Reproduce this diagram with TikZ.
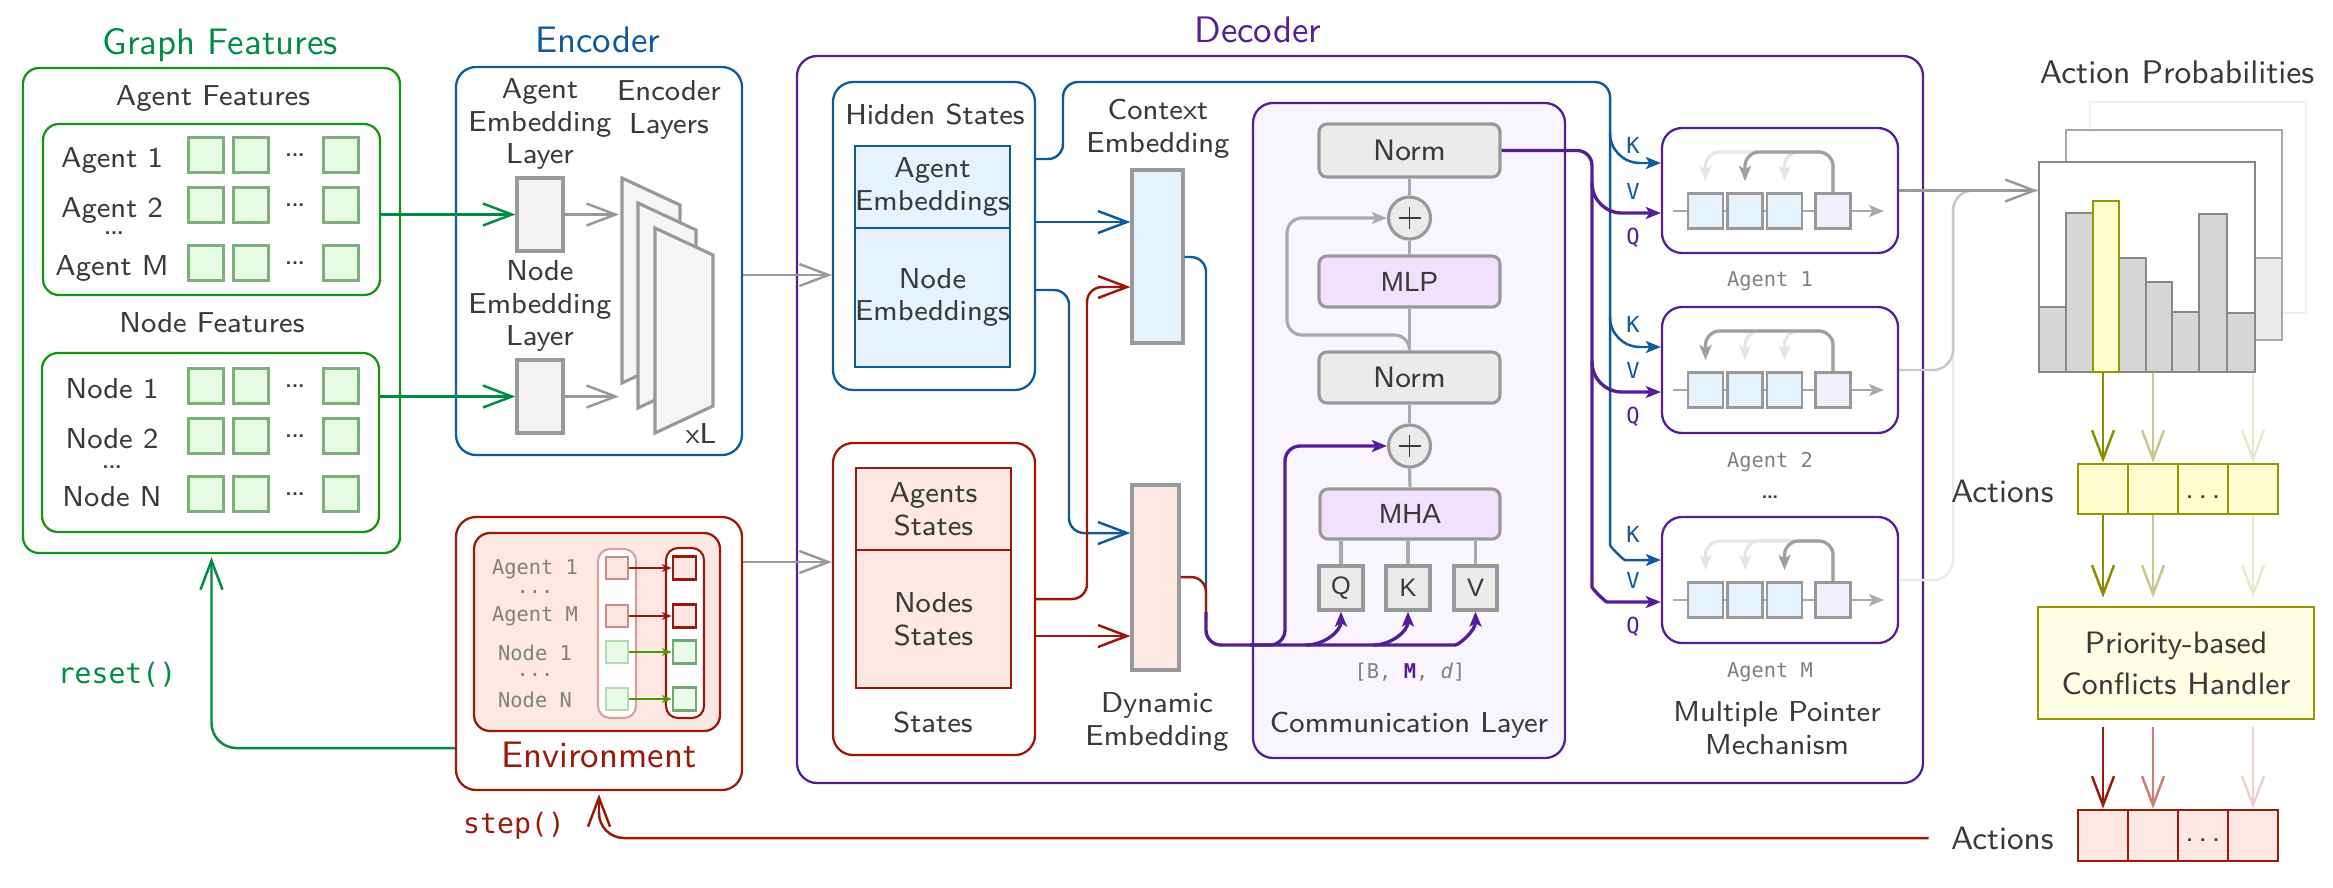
\documentclass[tikz,border=0pt]{standalone}
\usepackage{fontspec}
\setmonofont{DejaVu Sans Mono}
\newfontfamily\hvfont{Liberation Sans}
\usetikzlibrary{arrows.meta}
\definecolor{txt}{RGB}{58,58,58}
\definecolor{gfg}{RGB}{0,140,70}
\definecolor{gfb}{RGB}{20,150,20}
\definecolor{sqf}{RGB}{230,250,228}
\definecolor{sqd}{RGB}{125,175,125}
\definecolor{encb}{RGB}{15,90,155}
\definecolor{decp}{RGB}{85,30,150}
\definecolor{envr}{RGB}{155,25,10}
\definecolor{lred}{RGB}{253,232,228}
\definecolor{lblue}{RGB}{230,243,255}
\definecolor{lpur}{RGB}{240,226,253}
\definecolor{commf}{RGB}{248,245,254}
\definecolor{oliv}{RGB}{150,150,0}
\definecolor{olivA}{RGB}{140,140,0}
\definecolor{olivB}{RGB}{200,200,140}
\definecolor{olivC}{RGB}{232,232,205}
\definecolor{redB}{RGB}{205,125,118}
\definecolor{redC}{RGB}{238,208,204}
\definecolor{lyel}{RGB}{255,253,208}
\definecolor{hyel}{RGB}{254,254,226}
\definecolor{gline}{RGB}{153,153,153}
\definecolor{gcon}{RGB}{170,170,170}
\definecolor{panelf}{RGB}{244,245,245}
\definecolor{embf}{RGB}{242,242,242}
\definecolor{normf}{RGB}{235,235,235}
\definecolor{lightg}{RGB}{229,229,229}
\definecolor{darkg}{RGB}{160,160,160}
\definecolor{lpsq}{RGB}{243,238,252}
\definecolor{monog}{RGB}{128,128,128}
\definecolor{barf}{RGB}{214,214,214}
\definecolor{barB}{RGB}{136,136,136}
\definecolor{pbB}{RGB}{170,170,170}
\definecolor{pbC}{RGB}{238,238,238}
\definecolor{outB}{RGB}{200,200,200}
\definecolor{outC}{RGB}{235,235,235}
\definecolor{lgreen}{RGB}{234,251,234}
\definecolor{envlr}{RGB}{216,160,152}
\definecolor{envsqb}{RGB}{208,136,128}
\definecolor{envsqg}{RGB}{176,220,176}
\definecolor{envsqG}{RGB}{112,170,112}
\definecolor{envarg}{RGB}{76,154,0}

\newcommand{\myfbody}{\sffamily\fontsize{8.2}{9.3}\selectfont}
\newcommand{\myftitle}{\sffamily\fontsize{10.5}{12}\selectfont}
\newcommand{\myfmono}{\ttfamily\fontsize{5.8}{7}\selectfont}
\newcommand{\mkbox}[7]{\node[#1,minimum width={(#4-#2)*0.1mm},minimum height={(#5-#3)*0.1mm},inner sep=0pt] (#6) at ({(#2+#4)/2},{(#3+#5)/2}) {#7};}
\newcommand{\ptrrow}[3]{%
  \draw[gcon,line width=0.8pt,sstl] (1673,#1+83) -- (1884,#1+83);
  \foreach \tx in {1705.5,1745,1784.5}{\draw[lightg,line width=0.9pt,sstl,rounded corners=1.4mm] (1833,#1+66) |- (\tx,#1+24) -- (\tx,#1+53);}
  \draw[darkg,line width=0.9pt,sstl,rounded corners=1.4mm] (1833,#1+66) |- (#2,#1+24) -- (#2,#1+53);
  \node[psq,fill=lblue] (#3a) at (1705.5,#1+83) {};
  \node[psq,fill=lblue] (#3b) at (1745,#1+83) {};
  \node[psq,fill=lblue] (#3c) at (1784.5,#1+83) {};
  \node[psq,fill=lpsq] (#3d) at (1833,#1+83) {};
}

\tikzset{
 lw/.style={line width=0.7pt},
 pth/.style={line width=0.95pt},
 barb/.style={-{Straight Barb[length=2.9mm,width=2.2mm]}},
 sstl/.style={-{Stealth[length=1.5mm,width=1.2mm,inset=0.35mm]}},
 estl/.style={-{Stealth[length=1.0mm,width=0.8mm]}},
 gbox/.style={draw=gfb,line width=0.65pt,rounded corners=1.6mm},
 fsq/.style={draw=sqd,fill=sqf,line width=0.75pt,minimum size=3.55mm,inner sep=0pt},
 fdots/.style={font=\sffamily\bfseries\fontsize{6}{6}\selectfont},
 ebox/.style={draw=encb,line width=0.65pt,rounded corners=2mm},
 embb/.style={draw=gline,fill=embf,line width=0.9pt},
 dbox/.style={draw=decp,line width=0.65pt,rounded corners=2mm},
 bbox/.style={draw=encb,line width=0.65pt,rounded corners=2mm},
 ibox/.style={draw=encb,fill=lblue,line width=0.65pt,align=center},
 rbox/.style={draw=envr,line width=0.65pt,rounded corners=2mm},
 irbox/.style={draw=envr,fill=lred,line width=0.65pt,align=center},
 cebox/.style={draw=gline,fill=lblue,line width=0.9pt},
 debox/.style={draw=gline,fill=lred,line width=0.9pt},
 commb/.style={draw=decp,fill=commf,line width=0.65pt,rounded corners=2mm},
 normb/.style={draw=gline,fill=normf,line width=0.9pt,rounded corners=0.8mm,font=\sffamily\fontsize{8.4}{10}\selectfont},
 mlpb/.style={draw=gline,fill=lpur,line width=0.9pt,rounded corners=0.8mm,font=\hvfont\fontsize{7.9}{10}\selectfont},
 qkvb/.style={draw=gline,fill=normf,line width=0.9pt,font=\hvfont\fontsize{7.2}{9}\selectfont},
 plusc/.style={circle,draw=gline,fill=normf,line width=0.9pt,minimum size=4.2mm,inner sep=0pt},
 gc/.style={draw=gcon,line width=0.9pt},
 abox/.style={draw=decp,fill=white,line width=0.65pt,rounded corners=2mm},
 psq/.style={draw=gline,line width=0.8pt,minimum size=3.5mm,inner sep=0pt},
 kvq/.style={font=\ttfamily\fontsize{6.3}{7}\selectfont},
 monol/.style={font=\myfmono,text=monog},
 pbfront/.style={draw=barB,fill=white,line width=0.8pt},
 pbmid/.style={draw=pbB,fill=white,line width=0.8pt},
 pbback/.style={draw=pbC,fill=white,line width=0.8pt},
 barst/.style={draw=barB,fill=barf,line width=0.8pt},
 bary/.style={draw=oliv,fill=lyel,line width=0.8pt},
 cellY/.style={draw=oliv,fill=lyel,line width=0.8pt},
 cellR/.style={draw=envr,fill=lred,line width=0.8pt},
 celldots/.style={font=\sffamily\fontsize{9}{10}\selectfont},
 handlerb/.style={draw=oliv,fill=hyel,line width=0.8pt,align=center,font=\sffamily\fontsize{8.8}{11.7}\selectfont},
 envo/.style={draw=envr,fill=white,line width=0.65pt,rounded corners=2mm},
 envi/.style={draw=envr,fill=lred,line width=0.65pt,rounded corners=1.6mm},
 ecolL/.style={draw=envlr,fill=white,line width=0.6pt,rounded corners=1.2mm},
 ecolR/.style={draw=envr,fill=white,line width=0.6pt,rounded corners=1.2mm},
 esqLa/.style={draw=envsqb,fill=lred,line width=0.6pt,minimum size=2.2mm,inner sep=0pt},
 esqLn/.style={draw=envsqg,fill=lgreen,line width=0.6pt,minimum size=2.2mm,inner sep=0pt},
 esqRa/.style={draw=envr,fill=lred,line width=0.75pt,minimum size=2.3mm,inner sep=0pt},
 esqRn/.style={draw=envsqG,fill=lgreen,line width=0.75pt,minimum size=2.3mm,inner sep=0pt},
}

\begin{document}
\begin{tikzpicture}[x=0.1mm,y=-0.1mm,font=\myfbody,text=txt]
\useasboundingbox (0,0) rectangle (2333,887);

% ================= Graph features
\node[font=\myftitle,text=gfg] (gft) at (220,45) {Graph Features};
\mkbox{gbox}{23}{68}{400}{553}{gf}{}
\node (aft) at (213,98) {Agent Features};
\mkbox{gbox}{43}{124}{380}{295}{agb}{}
\node (nft) at (212,323) {Node Features};
\mkbox{gbox}{42}{353}{379}{532}{ngb}{}
\foreach \yy/\lab/\dy [count=\i] in {155/Agent 1/5,205/Agent 2/5,263/Agent M/5,386/Node 1/3,436/Node 2/3,494/Node N/3}{
  \node (fl\i) at (112,\yy+\dy) {\lab};
  \node[fsq] (fa\i) at (206,\yy) {};
  \node[fsq] (fb\i) at (251,\yy) {};
  \node[fdots] (fd\i) at (295,\yy) {...};
  \node[fsq] (fc\i) at (341,\yy) {};
}
\node[fdots] (fdA) at (114,233) {...};
\node[fdots] (fdN) at (112,467) {...};

% ================= Encoder
\node[font=\myftitle,text=encb] (enct) at (598,40) {Encoder};
\mkbox{ebox}{456}{67}{742}{455}{enc}{}
\node[align=center] (aembl) at (540,124) {Agent\\Embedding\\Layer};
\node[align=center] (encl) at (669,110) {Encoder\\Layers};
\node[align=center] (nembl) at (540,306) {Node\\Embedding\\Layer};
\mkbox{embb}{517}{178}{563}{251}{aemb}{}
\mkbox{embb}{517}{360}{563}{433}{nemb}{}
\foreach \px/\py in {622/178,638/203,655/228}
  \draw[gline,line width=0.9pt,fill=panelf] (\px,\py) -- ++(58,27) -- ++(0,151) -- ++(-58,27) -- cycle;
\coordinate (lay1) at (619,214.5);
\coordinate (lay2) at (619,396.5);
\draw[gline,lw,barb] (aemb.east) -- (lay1);
\draw[gline,lw,barb] (nemb.east) -- (lay2);
\node (xl) at (701,433) {xL};
\draw[gfg,lw,barb] (agb.east |- aemb) -- (aemb.west);
\draw[gfg,lw,barb] (ngb.east |- nemb) -- (nemb.west);

% ================= Decoder
\node[font=\myftitle,text=decp] (dect) at (1258,30) {Decoder};
\mkbox{dbox}{797}{56}{1923}{783}{dec}{}
\mkbox{bbox}{833}{82}{1035}{390}{hs}{}
\node (hst) at (935,114) {Hidden States};
\mkbox{ibox}{856}{146}{1009}{228}{ae}{Agent\\Embeddings}
\mkbox{ibox}{856}{228}{1009}{367}{ne}{Node\\Embeddings}
\mkbox{rbox}{833}{443}{1035}{755}{st}{}
\mkbox{irbox}{856}{468}{1011}{550}{as}{Agents\\States}
\mkbox{irbox}{856}{550}{1011}{688}{ns}{Nodes\\States}
\node (stt) at (933,722) {States};
\node[align=center] (ctxl) at (1158,129) {Context\\Embedding};
\mkbox{cebox}{1132}{170}{1183}{343}{ctx}{}
\mkbox{debox}{1132}{485}{1179}{670}{dyn}{}
\node[align=center] (dynl) at (1157,722) {Dynamic\\Embedding};

\draw[gline,lw,barb] (enc.east |- 0,275) -- (hs.west |- 0,275);

\draw[encb,lw,barb] (hs.east |- 0,222) -- (ctx.west |- 0,222);
\draw[encb,lw,barb,rounded corners=1.5mm] (hs.east |- 0,290) -| (1069,533) -- (dyn.west |- 0,533);
\draw[envr,lw,barb,rounded corners=1.5mm] (st.east |- 0,599) -| (1087,287) -- (ctx.west |- 0,287);
\draw[envr,lw,barb] (st.east |- 0,636) -- (dyn.west |- 0,636);

% Communication layer
\mkbox{commb}{1253}{103}{1565}{758}{comm}{}
\node (comml) at (1409,725) {Communication Layer};
\mkbox{normb}{1319}{124}{1500}{177}{norm1}{Norm}
\node[plusc] (p1) at (1409.5,218) {};
\mkbox{mlpb}{1319}{256}{1500}{307}{mlp}{MLP}
\mkbox{normb}{1319}{352}{1500}{403}{norm2}{Norm}
\node[plusc] (p2) at (1409.5,446) {};
\mkbox{mlpb}{1320}{489}{1500}{539}{mha}{MHA}
\mkbox{qkvb}{1319}{566}{1363}{610}{qq}{Q}
\mkbox{qkvb}{1386}{566}{1430}{610}{kk}{K}
\mkbox{qkvb}{1454}{566}{1497}{610}{vv}{V}
\draw[txt,line width=0.5pt] (p1.center) ++(-11,0) -- ++(22,0) (p1.center) ++(0,-11) -- ++(0,22);
\draw[txt,line width=0.5pt] (p2.center) ++(-11,0) -- ++(22,0) (p2.center) ++(0,-11) -- ++(0,22);
\draw[gc] (qq.north) -- (qq.north |- mha.south);
\draw[gc] (kk.north) -- (kk.north |- mha.south);
\draw[gc] (vv.north) -- (vv.north |- mha.south);
\draw[gc] (mha.north) -- (p2.south);
\draw[gc] (p2.north) -- (norm2.south);
\draw[gc] (norm2.north) -- (mlp.south);
\draw[gc] (mlp.north) -- (p1.south);
\draw[gc] (p1.north) -- (norm1.south);
\draw[gc,sstl,rounded corners=1.5mm] (norm2.north) |- (1287,335) |- (p1.west);
\node[monol] (bmd) at (1410,672) {[B, \textcolor{decp}{\textbf{M}}, \textit{d}]};

\draw[encb,lw,rounded corners=1.5mm] (ctx.east |- 0,257) -| (1206,618);
\draw[envr,lw,rounded corners=1.5mm] (dyn.east |- 0,577) -| (1206,618);
\draw[decp,pth,sstl,rounded corners=1.5mm] (1206,612) |- (1440,645) to[out=0,in=-90] (vv.south);
\draw[decp,pth,sstl] (1306,645) to[out=0,in=-90] (qq.south);
\draw[decp,pth,sstl] (1373,645) to[out=0,in=-90] (kk.south);
\draw[decp,pth,sstl,rounded corners=1.5mm] (1250,645) -| (1285,446) -- (p2.west);

% Multiple pointer
\mkbox{abox}{1662}{128}{1898}{253}{am1}{}
\mkbox{abox}{1662}{307}{1898}{433}{am2}{}
\mkbox{abox}{1662}{517}{1898}{643}{am3}{}
\ptrrow{128}{1745}{pa}
\ptrrow{307}{1705.5}{pb}
\ptrrow{517}{1784.5}{pc}
\node[monol] (aml1) at (1770,281) {Agent 1};
\node[monol] (aml2) at (1770,462) {Agent 2};
\node (amdots) at (1770,497) {\dots};
\node[monol] (aml3) at (1770,672) {Agent M};
\node[align=center] (mpm) at (1777,728) {Multiple Pointer\\Mechanism};

\draw[encb,lw,sstl,rounded corners=1.5mm] (hs.east |- 0,159) -| (1063,82) -- (1610,82) -- (1610,530) to[out=-90,in=180] (1640,560) -- (am3.west |- 0,560);
\draw[encb,lw,sstl] (1610,133) to[out=-90,in=180] (1640,163) -- (am1.west |- 0,163);
\draw[encb,lw,sstl] (1610,317) to[out=-90,in=180] (1640,347) -- (am2.west |- 0,347);
\draw[decp,pth,sstl,rounded corners=1.5mm] (norm1.east) -- (1592,150.5) -- (1592,572) to[out=-90,in=180] (1622,602) -- (am3.west |- 0,602);
\draw[decp,pth,sstl] (1592,183) to[out=-90,in=180] (1622,213) -- (am1.west |- 0,213);
\draw[decp,pth,sstl] (1592,362) to[out=-90,in=180] (1622,392) -- (am2.west |- 0,392);
\foreach \ty [count=\i] in {128,307,517}{
  \node[kvq,text=encb] (lk\i) at (1633,\ty+17) {K};
  \node[kvq,text=encb] (lv\i) at (1633,\ty+63) {V};
  \node[kvq,text=decp] (lq\i) at (1633,\ty+110) {Q};
}

% ================= Action probabilities
\node[font=\sffamily\fontsize{9.3}{11}\selectfont] (apt) at (2177,72) {Action Probabilities};
\mkbox{pbback}{2090}{102}{2306}{313}{pb3}{}
\mkbox{pbmid}{2066}{130}{2282}{340}{pb2}{}
\mkbox{draw=pbB,fill=normf,line width=0.8pt}{2254}{258}{2282}{340}{pbbar}{}
\mkbox{pbfront}{2039}{162}{2255}{372}{pb1}{}
\foreach \xa/\xb/\yt [count=\i] in {2039/2066/307,2066/2093/213,2119/2146/258,2146/2172/282,2172/2199/312,2199/2227/214,2227/2255/313}
  {\mkbox{barst}{\xa}{\yt}{\xb}{372}{bar\i}{}}
\mkbox{bary}{2093}{201}{2119}{372}{barY}{}

\draw[outC,lw,rounded corners=2mm] (am3.east) -| (1953,190.5) -- (pb1.west |- am1.east);
\draw[outB,lw,rounded corners=2mm] (am2.east) -| (1953,190.5) -- (pb1.west |- am1.east);
\draw[gline,lw,barb] (am1.east) -- (pb1.west |- am1.east);

\foreach \xa [count=\i] in {2078,2128,2178,2228}{
  \mkbox{cellY}{\xa}{464}{\xa+50}{514}{ca\i}{}
  \mkbox{cellR}{\xa}{810}{\xa+50}{861}{cb\i}{}
}
\node[celldots] (cad) at (2203,497) {.\kern1.2pt.\kern1.2pt.};
\node[celldots] (cbd) at (2203,840) {.\kern1.2pt.\kern1.2pt.};
\node[anchor=east,font=\sffamily\fontsize{9.2}{11}\selectfont] (act1) at (2066,491) {Actions};
\node[anchor=east,font=\sffamily\fontsize{9.2}{11}\selectfont] (act2) at (2066,838) {Actions};
\mkbox{handlerb}{2038}{607}{2314}{719}{ph}{Priority-based\\Conflicts Handler}

\draw[olivC,lw,barb] (ca4.north |- pb1.south) -- (ca4.north);
\draw[olivB,lw,barb] (ca2.north |- pb1.south) -- (ca2.north);
\draw[olivA,lw,barb] (ca1.north |- pb1.south) -- (ca1.north);
\draw[olivC,lw,barb,shorten >=0.8mm] (ca4.south) -- (ca4.south |- ph.north);
\draw[olivB,lw,barb,shorten >=0.8mm] (ca2.south) -- (ca2.south |- ph.north);
\draw[olivA,lw,barb,shorten >=0.8mm] (ca1.south) -- (ca1.south |- ph.north);
\draw[redC,lw,barb,shorten <=0.7mm] (cb4.north |- ph.south) -- (cb4.north);
\draw[redB,lw,barb,shorten <=0.7mm] (cb2.north |- ph.south) -- (cb2.north);
\draw[envr,lw,barb,shorten <=0.7mm] (cb1.north |- ph.south) -- (cb1.north);

% ================= Environment
\mkbox{envo}{456}{517}{742}{790}{env}{}
\mkbox{envi}{474}{533}{720}{731}{envin}{}
\node[font=\myftitle,text=envr] (envt) at (599,755) {Environment};
\node[monol] (el1) at (535,569) {Agent 1};
\node[monol] (el2) at (535,592) {...};
\node[monol] (el3) at (535,616) {Agent M};
\node[monol] (el4) at (535,653) {Node 1};
\node[monol] (el5) at (535,675) {...};
\node[monol] (el6) at (535,700) {Node N};
\mkbox{ecolL}{598}{549}{636}{718}{ecl}{}
\mkbox{ecolR}{666}{548}{704}{718}{ecr}{}
\node[esqLa] (ls1) at (617,568) {}; \node[esqRa] (rs1) at (684.5,568) {};
\node[esqLa] (ls2) at (617,616) {}; \node[esqRa] (rs2) at (684.5,616) {};
\node[esqLn] (ls3) at (617,652) {}; \node[esqRn] (rs3) at (684.5,652) {};
\node[esqLn] (ls4) at (617,699) {}; \node[esqRn] (rs4) at (684.5,699) {};
\draw[envr,line width=0.8pt,estl] (ls1.east) -- (rs1.west);
\draw[envr,line width=0.8pt,estl] (ls2.east) -- (rs2.west);
\draw[envarg,line width=0.8pt,estl] (ls3.east) -- (rs3.west);
\draw[envarg,line width=0.8pt,estl] (ls4.east) -- (rs4.west);

\draw[gline,lw,barb] (env.east |- 0,562) -- (st.west |- 0,562);
\draw[gfg,lw,barb,rounded corners=2.5mm,shorten >=0.3mm] (env.west |- 0,748) -| (gf.south);
\node[font=\ttfamily\fontsize{8}{9}\selectfont,text=gfg] (rst) at (117,675) {reset()};
\draw[envr,lw,barb,rounded corners=2.5mm,shorten <=1mm,shorten >=0.3mm] (act2.west) -| (env.south);
\node[font=\ttfamily\fontsize{8}{9}\selectfont,text=envr] (stp) at (514,826) {step()};
\end{tikzpicture}
\end{document}
